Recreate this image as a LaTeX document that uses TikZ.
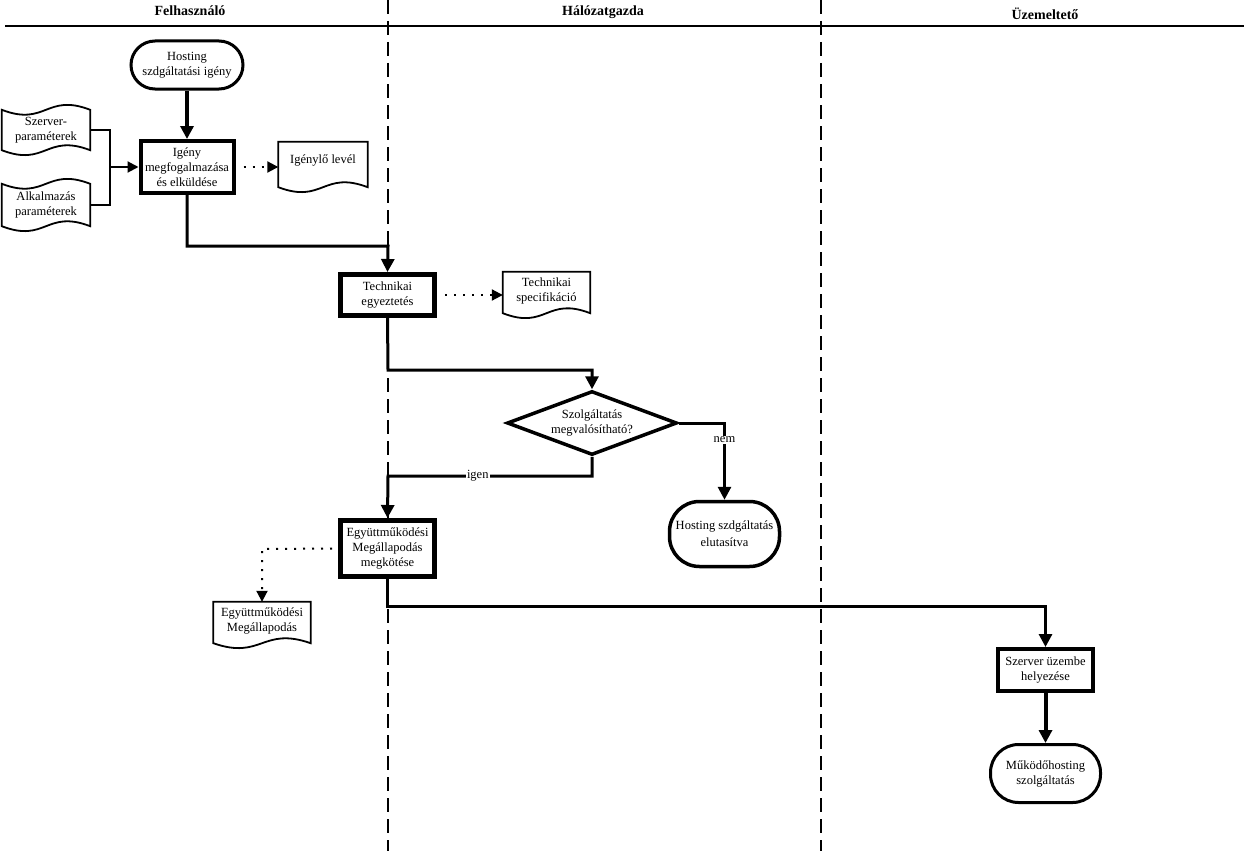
\documentclass[tikz,border=0pt]{standalone}
\usepackage{fontspec}
\setmainfont{Liberation Serif}
\usetikzlibrary{arrows.meta,calc,shapes.geometric}

\newcommand\docoutline[1]{%
  \draw[docline] (#1.north west) -- (#1.north east) -- ([yshift=5pt]#1.south east)
    .. controls ($([yshift=5pt]#1.south)+(0,-17)$) and ($([yshift=5pt]#1.south)+(0,17)$) .. ([yshift=5pt]#1.south west) -- cycle;}
\newcommand\tapeoutline[1]{%
  \draw[docline] ([yshift=-5pt]#1.north west)
    .. controls ($([yshift=-5pt]#1.north)+(0,17)$) and ($([yshift=-5pt]#1.north)+(0,-17)$) .. ([yshift=-5pt]#1.north east)
    -- ([yshift=5pt]#1.south east)
    .. controls ($([yshift=5pt]#1.south)+(0,-17)$) and ($([yshift=5pt]#1.south)+(0,17)$) .. ([yshift=5pt]#1.south west) -- cycle;}

\begin{document}
\begin{tikzpicture}[x=1pt,y=-1pt,
  every node/.style={font=\fontsize{12.5}{15}\selectfont, align=center, inner sep=0pt},
  header/.style={font=\fontsize{14}{16}\selectfont\bfseries},
  procbox/.style={draw, fill=white, line width=4pt, rectangle},
  termnode/.style={draw, fill=white, line width=3pt, rectangle},
  shapebox/.style={rectangle, draw=none},
  docline/.style={line width=1.8pt, line join=miter, fill=white},
  lane/.style={line width=2.5pt, dash pattern=on 14pt off 7pt},
  conn/.style={line width=3pt},
  tip/.style={-{Triangle[length=13pt,width=13pt]}},
  dotarrow/.style={line width=2pt, dash pattern=on 2pt off 7pt, -{Triangle[length=11pt,width=11pt]}},
  lbl/.style={fill=white, inner sep=1pt}
]
\useasboundingbox (0,0) rectangle (1244,851);

% lanes
\draw[line width=2.5pt] (5,26) -- (1244,26);
\node[header] (fh) at (190,11) {Felhasználó};
\node[header] (hg) at (603,12) {Hálózatgazda};
\node[header] (uz) at (1045,14) {Üzemeltető};
\draw[lane] (388,0) -- (388,851);
\draw[lane] (821,0) -- (821,851);

% nodes
\node[termnode, rounded corners=24pt, minimum width=112pt, minimum height=48pt] (host) at (187,65) {Hosting\\szdgáltatási igény};
\node[procbox, minimum width=93pt, minimum height=52pt] (igeny) at (187,167) {Igény\\megfogalmazása\\és elküldése};

\node[shapebox, minimum width=88pt, minimum height=50pt] (szerv) at (46,130) {};
\tapeoutline{szerv}
\node (szervtxt) at (szerv.center) {Szerver-\\paraméterek};
\node[shapebox, minimum width=88pt, minimum height=52pt] (alk) at (46,205) {};
\tapeoutline{alk}
\node (alktxt) at (alk.center) {Alkalmazás\\paraméterek};

\node[shapebox, minimum width=89pt, minimum height=50pt] (igenylo) at (323,167) {};
\docoutline{igenylo}
\node (igenylotxt) at ([yshift=6pt]igenylo.center) {Igénylő levél};

\node[procbox, line width=5pt, minimum width=94pt, minimum height=41pt] (tech) at (387.5,295) {Technikai\\egyeztetés};
\node[shapebox, minimum width=87pt, minimum height=46pt] (spec) at (546.5,295) {};
\docoutline{spec}
\node (spectxt) at ([yshift=4pt]spec.center) {Technikai\\specifikáció};

\node[diamond, aspect=2.65, draw, fill=white, line width=3.5pt, minimum width=170pt, minimum height=64pt] (dia) at (592,423) {Szolgáltatás\\megvalósítható?};

\node[termnode, line width=3.5pt, rounded corners=30pt, minimum width=110pt, minimum height=65pt] (elut) at (724.5,534) {Hosting szdgáltatás\\[2pt]elutasítva};

\node[procbox, line width=5pt, minimum width=94pt, minimum height=56pt] (egy) at (387.5,548.5) {Együttműködési\\Megállapodás\\megkötése};
\node[shapebox, minimum width=97pt, minimum height=46pt] (egydoc) at (262,625) {};
\docoutline{egydoc}
\node (egydoctxt) at ([yshift=4pt]egydoc.center) {Együttműködési\\Megállapodás};

\node[procbox, minimum width=95pt, minimum height=42pt] (szbox) at (1045.5,670) {Szerver üzembe\\helyezése};
\node[termnode, rounded corners=28pt, minimum width=110pt, minimum height=58pt] (muk) at (1045.5,773.5) {Működőhosting\\szolgáltatás};

% coordinates
\coordinate (jn) at (110,167);
\coordinate (c1) at (388,246);
\coordinate (c2) at (388,370);
\coordinate (c3) at (388,476);
\coordinate (c4) at (1045.5,606);
\coordinate (c5) at (262,549);

% connectors
\draw[line width=4.5pt, tip] (host.south) -- (igeny.north);
\draw[line width=2pt] (szerv.east) -| (jn);
\draw[line width=2pt] (alk.east) -| (jn);
\draw[line width=2pt, -{Triangle[length=11pt,width=11pt]}] (jn) -- (igeny.west);
\draw[dotarrow, shorten <=8pt] (igeny.east) -- (igenylo.west);
\draw[conn, tip] (igeny.south) |- (c1) -- (tech.north);
\draw[dotarrow, shorten <=8pt] (tech.east) -- (spec.west);
\draw[conn, tip] (tech.south) -- (c2) -| (dia.north);
\draw[conn, tip] (dia.east) -| node[lbl, pos=0.61] {nem} (elut.north);
\draw[conn, tip] (dia.south) |- node[lbl, pos=0.78] {igen} (c3) -- (egy.north);
\draw[dotarrow, shorten <=6pt] (egy.west) -- (c5) -- (egydoc.north);
\draw[conn, tip] (egy.south) |- (c4) -- (szbox.north);
\draw[line width=4pt, tip] (szbox.south) -- (muk.north);
\end{tikzpicture}
\end{document}
